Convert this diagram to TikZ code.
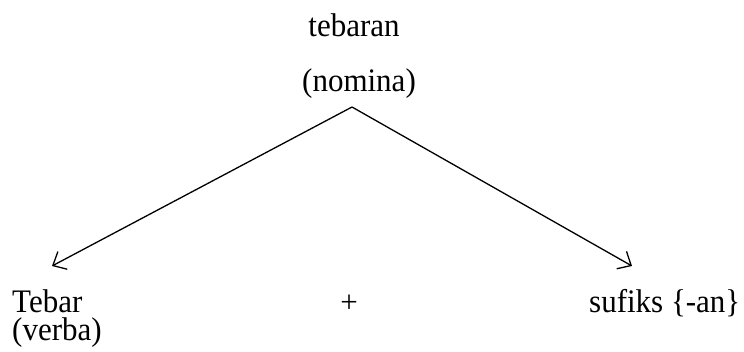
\documentclass[tikz,border=0pt]{standalone}
\usepackage{fontspec}
\setmainfont{Liberation Serif}
\usetikzlibrary{arrows.meta}
\begin{document}
\begin{tikzpicture}[x=1pt,y=-1pt,
  lbl/.style={inner sep=0pt,font=\fontsize{31}{31}\selectfont},
  arr/.style={line width=1.3pt,-{Straight Barb[length=11pt,width=20pt,line width=1.3pt]}}]
\useasboundingbox (0,0) rectangle (744,351);
\node[lbl,anchor=base] (top1) at (354,36) {\scalebox{1}[1.06]{tebaran}};
\node[lbl,anchor=base] (top2) at (359,91) {\scalebox{1}[1.06]{(nomina)}};
\coordinate (apex) at (352,107);
\coordinate (ltip) at (52,266);
\coordinate (rtip) at (632,266);
\node[lbl,anchor=base west] (tebar) at (12,312) {\scalebox{1}[1.06]{Tebar}};
\node[lbl,anchor=base west] (verba) at (12,340) {\scalebox{1}[1.06]{(verba)}};
\node[lbl,anchor=base] (plus) at (349,312) {+};
\node[lbl,anchor=base west] (sufiks) at (589,312) {\scalebox{1}[1.06]{sufiks \{-an\}}};
\draw[arr] (apex) -- (ltip);
\draw[arr] (apex) -- (rtip);
\end{tikzpicture}
\end{document}
